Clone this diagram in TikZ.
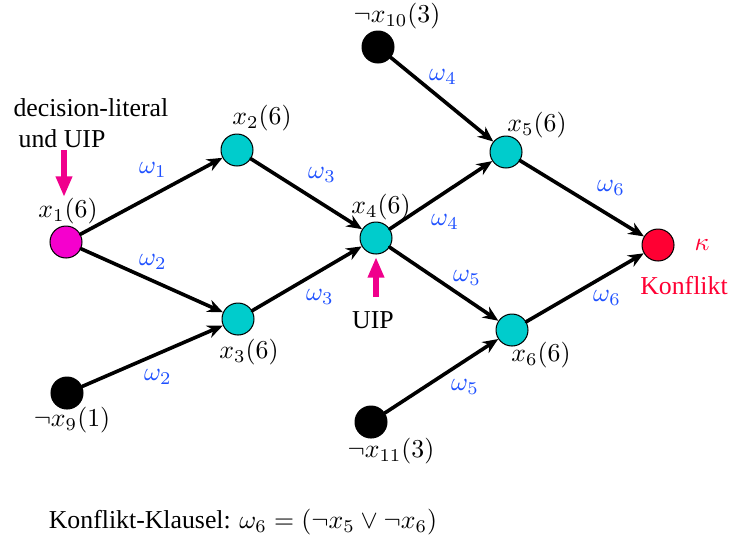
\documentclass[tikz,border=0pt]{standalone}
\usepackage{fontspec}
\setmainfont{Liberation Serif}
\usetikzlibrary{arrows.meta}
\definecolor{litcyan}{RGB}{0,204,204}
\definecolor{litmag}{RGB}{245,0,205}
\definecolor{pinkarr}{RGB}{240,0,140}
\definecolor{konfred}{RGB}{255,0,51}
\definecolor{wblue}{RGB}{30,80,255}
\begin{document}
\begin{tikzpicture}[x=0.01362cm, y=-0.01362cm, line join=round, line cap=round, >={Stealth[length=6pt,width=5pt]},
	lit/.style={circle, draw=black, thin, minimum size=12.4pt, inner sep=0pt},
	imp/.style={->, line width=1.4pt},
	wlbl/.style={text=wblue},
	pin/.style={-{Triangle[length=8pt,width=6pt]}, line width=2pt, pinkarr, line cap=butt}]
	\useasboundingbox (0,0) rectangle (729,547);
	\path
	(66,242) node[lit, fill=litmag] (x1) {}
	(237,150) node[lit, fill=litcyan] (x2) {}
	(238,319) node[lit, fill=litcyan] (x3) {}
	(376,238) node[lit, fill=litcyan] (x4) {}
	(506,152) node[lit, fill=litcyan] (x5) {}
	(512,330) node[lit, fill=litcyan] (x6) {}
	(658,245) node[lit, fill=konfred] (k) {}
	(67,393) node[lit, fill=black] (x9) {}
	(378,47) node[lit, fill=black] (x10) {}
	(371,422) node[lit, fill=black] (x11) {}
	;
	% Beschriftungen der Knoten
	\foreach \n/\p/\t in {l1/{68,211}/x_1(6), l2/{262,118}/x_2(6), l3/{249,352}/x_3(6),
		l4/{381,207}/x_4(6), l5/{537,125}/x_5(6), l6/{541,355}/x_6(6),
		l9/{72,420}/\neg x_9(1), l10/{397,16}/\neg x_{10}(3), l11/{391,451}/\neg x_{11}(3)}
	\node (\n) at (\p) {$\t$};
	\node[text=konfred] (lk) at (702,245) {$\kappa$};
	\node[text=konfred] (konf) at (684,286) {Konflikt};
	% Kanten
	\foreach \a/\b in {x1/x2, x1/x3, x2/x4, x3/x4, x9/x3, x4/x5, x4/x6, x10/x5, x11/x6, x5/k, x6/k}
	\draw[imp] (\a)--(\b);
	\foreach \n/\p/\t in {w1/{153,170}/1, w2/{153,262}/2, w2b/{158,377}/2, w3/{322,175}/3, w3b/{320,297}/3,
		w4/{443,77}/4, w4b/{445,222}/4, w5/{467,278}/5, w5b/{465,387}/5, w6/{611,188}/6, w6b/{607,298}/6}
	\node[wlbl] (\n) at (\p) {$\omega_\t$};
	% UIP
	\node[align=left, anchor=west, inner sep=0pt] (dec) at (13,123) {decision-literal\\\hspace*{2pt}und UIP};
	\coordinate (d0) at (64,150);
	\draw[pin] (d0)--(64,197);
	\node (uip) at (373,320) {UIP};
	\coordinate (u0) at (376,297);
	\draw[pin] (u0)--(376,257);
	\node (klausel) at (243,522) {Konflikt-Klausel: $\omega_6 = (\neg x_5 \vee \neg x_6)$};
\end{tikzpicture}
\end{document}
